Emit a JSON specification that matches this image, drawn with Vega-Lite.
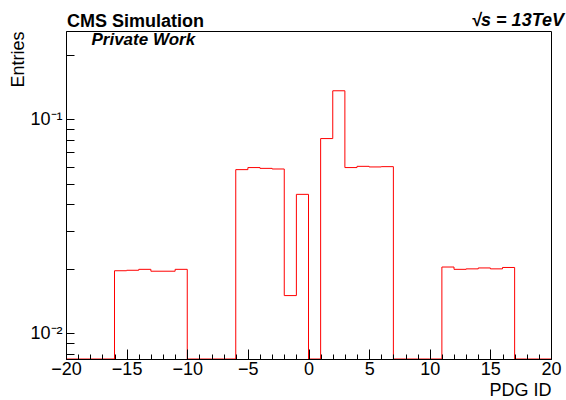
{
  "$schema": "https://vega.github.io/schema/vega-lite/v6.json",
  "width": 485,
  "height": 328,
  "autosize": {"type": "none"},
  "padding": {"left": 66, "top": 31, "right": 15, "bottom": 41},
  "background": "white",
  "config": {
    "view": {"stroke": "black", "strokeWidth": 1},
    "font": "Liberation Sans"
  },
  "resolve": {"axis": {"x": "independent", "y": "independent"}},
  "layer": [
    {
      "data": {
        "values": [
          {"edge": -20, "entries": 0},
          {"edge": -19, "entries": 0},
          {"edge": -18, "entries": 0},
          {"edge": -17, "entries": 0},
          {"edge": -16, "entries": 0.0196},
          {"edge": -15, "entries": 0.0197},
          {"edge": -14, "entries": 0.0199},
          {"edge": -13, "entries": 0.0195},
          {"edge": -12, "entries": 0.0195},
          {"edge": -11, "entries": 0.0199},
          {"edge": -10, "entries": 0},
          {"edge": -9, "entries": 0},
          {"edge": -8, "entries": 0},
          {"edge": -7, "entries": 0},
          {"edge": -6, "entries": 0.0582},
          {"edge": -5, "entries": 0.0595},
          {"edge": -4, "entries": 0.059},
          {"edge": -3, "entries": 0.0586},
          {"edge": -2, "entries": 0.015},
          {"edge": -1, "entries": 0.0446},
          {"edge": 0, "entries": 0},
          {"edge": 1, "entries": 0.0813},
          {"edge": 2, "entries": 0.136},
          {"edge": 3, "entries": 0.0595},
          {"edge": 4, "entries": 0.0603},
          {"edge": 5, "entries": 0.0599},
          {"edge": 6, "entries": 0.0601},
          {"edge": 7, "entries": 0},
          {"edge": 8, "entries": 0},
          {"edge": 9, "entries": 0},
          {"edge": 10, "entries": 0},
          {"edge": 11, "entries": 0.0204},
          {"edge": 12, "entries": 0.0199},
          {"edge": 13, "entries": 0.02},
          {"edge": 14, "entries": 0.0202},
          {"edge": 15, "entries": 0.02},
          {"edge": 16, "entries": 0.0203},
          {"edge": 17, "entries": 0},
          {"edge": 18, "entries": 0},
          {"edge": 19, "entries": 0},
          {"edge": 20, "entries": 0}
        ]
      },
      "mark": {"type": "line", "interpolate": "step-after", "color": "#ff0000", "strokeWidth": 1, "invalid": "show"},
      "encoding": {
        "x": {
          "field": "edge",
          "type": "quantitative",
          "scale": {"domain": [-20, 20], "nice": false, "zero": false},
          "axis": {
            "title": "PDG ID",
            "titleAnchor": "end",
            "titleFont": "Liberation Sans",
            "titleFontSize": 18,
            "titleFontWeight": "normal",
            "titleColor": "black",
            "titlePadding": -2,
            "values": [-20,-19,-18,-17,-16,-15,-14,-13,-12,-11,-10,-9,-8,-7,-6,-5,-4,-3,-2,-1,0,1,2,3,4,5,6,7,8,9,10,11,12,13,14,15,16,17,18,19,20],
            "labelExpr": "(datum.value % 5 == 0) ? datum.label : ''",
            "labelOverlap": false,
            "labelFlush": false,
            "labelFont": "Liberation Sans",
            "labelFontSize": 18,
            "labelColor": "black",
            "domainColor": "black",
            "tickColor": "black",
            "grid": false,
            "zindex": 1,
            "tickSize": {"condition": {"test": "datum.value % 5 == 0", "value": -10}, "value": -5},
            "labelPadding": 11
          }
        },
        "y": {
          "field": "entries",
          "type": "quantitative",
          "scale": {"type": "log", "domain": [0.00758, 0.2588], "clamp": true, "nice": false},
          "axis": {
            "title": "Entries",
            "titleAnchor": "end",
            "titleFont": "Liberation Sans",
            "titleFontSize": 18,
            "titleFontWeight": "normal",
            "titleColor": "black",
            "titlePadding": 2,
            "values": [0.008, 0.009, 0.01, 0.02, 0.03, 0.04, 0.05, 0.06, 0.07, 0.08, 0.09, 0.1, 0.2],
            "labelExpr": "datum.value == 0.1 ? '10⁻¹' : datum.value == 0.01 ? '10⁻²' : ''",
            "labelOverlap": false,
            "labelFlush": false,
            "labelFont": "Liberation Sans",
            "labelFontSize": 18,
            "labelColor": "black",
            "domainColor": "black",
            "ticks": true,
            "tickColor": "black",
            "tickWidth": 1,
            "grid": false,
            "zindex": 1,
            "tickSize": -8,
            "labelPadding": 12
          }
        }
      }
    },
    {
      "data": {"values": [{"t": "CMS Simulation"}]},
      "mark": {"type": "text", "align": "left", "baseline": "alphabetic", "fontSize": 18, "fontWeight": "bold", "font": "Liberation Sans", "color": "black", "dx": 1, "dy": -4},
      "encoding": {
        "x": {"datum": -20, "axis": null},
        "y": {"datum": 0.2588, "axis": null},
        "text": {"field": "t"}
      }
    },
    {
      "data": {"values": [{"t": "Private Work"}]},
      "mark": {"type": "text", "align": "left", "baseline": "alphabetic", "fontSize": 17, "fontWeight": "bold", "fontStyle": "italic", "font": "Liberation Sans", "color": "black"},
      "encoding": {
        "x": {"datum": -17.9, "axis": null},
        "y": {"datum": 0.222, "axis": null},
        "text": {"field": "t"}
      }
    },
    {
      "data": {"values": [{"t": "√s = 13TeV"}]},
      "mark": {"type": "text", "align": "right", "baseline": "alphabetic", "fontSize": 18, "fontWeight": "bold", "fontStyle": "italic", "font": "Liberation Sans", "color": "black", "dx": 13, "dy": -5},
      "encoding": {
        "x": {"datum": 20, "axis": null},
        "y": {"datum": 0.2588, "axis": null},
        "text": {"field": "t"}
      }
    }
  ]
}
